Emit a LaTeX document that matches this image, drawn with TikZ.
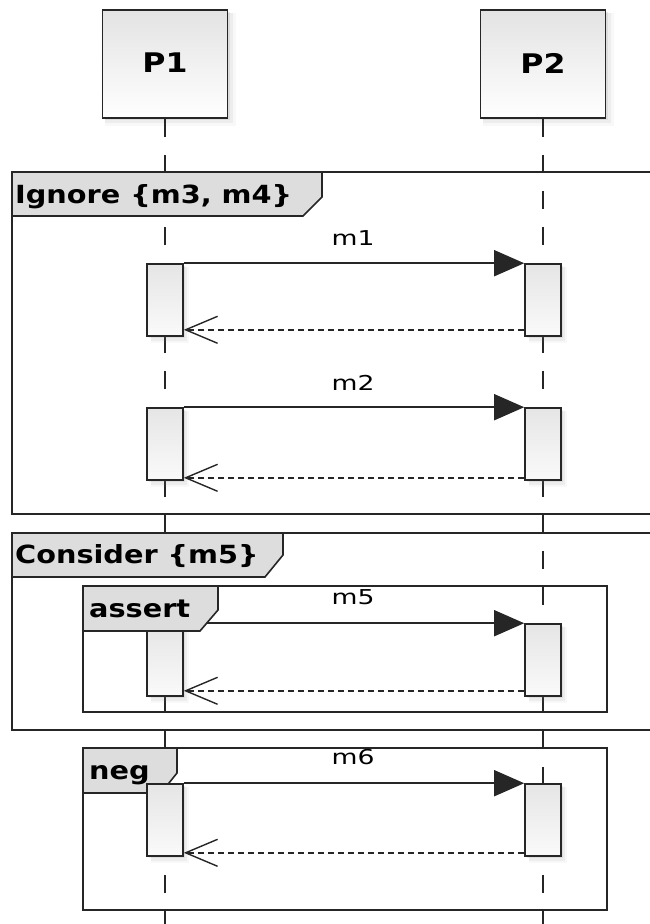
\documentclass[tikz,border=0pt]{standalone}
\usepackage{fontspec}
\usepackage{graphicx}
\setmainfont{DejaVu Sans}
\usetikzlibrary{arrows.meta,shadows}

% horizontally widened text, as the diagram's font runs wide
\newcommand\widetxt[2]{\scalebox{#1}[1]{#2}}

\tikzset{
  ink/.style={draw=black!85, line width=1.6pt},
  softshadow/.style={
    drop shadow={opacity=0.06, shadow xshift=5pt, shadow yshift=-5pt, shadow scale=1.05},
    drop shadow={opacity=0.09, shadow xshift=4pt, shadow yshift=-4pt, shadow scale=1.02},
    drop shadow={opacity=0.14, shadow xshift=2pt, shadow yshift=-2pt}},
  actor/.style={ink, rectangle, inner sep=0pt, minimum width=125pt, minimum height=108pt,
    top color=gray!22, bottom color=white, softshadow},
  actbar/.style={ink, rectangle, inner sep=0pt, minimum width=36pt, minimum height=72pt,
    top color=gray!20, bottom color=gray!4, softshadow},
  lifeline/.style={ink, line width=1.5pt, dash pattern=on 18pt off 18pt},
  frameline/.style={ink},
  tab/.style={ink, fill=gray!27},
  tabtext/.style={anchor=base west, inner sep=0pt, font=\fontsize{25}{25}\selectfont\bfseries},
  actortext/.style={font=\fontsize{27}{27}\selectfont\bfseries},
  msgtext/.style={inner sep=0pt, font=\fontsize{20.5}{20.5}\selectfont},
  call/.style={ink, -{Triangle[length=30pt,width=26pt]}},
  reply/.style={draw=black!85, line width=1.4pt, dash pattern=on 6pt off 4pt,
    -{Straight Barb[length=32pt,width=27pt,line width=1.4pt]}},
}

\begin{document}
\begin{tikzpicture}[x=1pt,y=-1pt]
\useasboundingbox (0,0) rectangle (650,924);

% participants
\node[actor] (p1) at (165,64) {};
\node[actor] (p2) at (543,64) {};
\node[actortext] (p1t) at (165,63) {\widetxt{1.17}{P1}};
\node[actortext] (p2t) at (543,63) {\widetxt{1.17}{P2}};

% lifelines
\coordinate (p1end) at (165,930);
\coordinate (p2end) at (543,930);
\draw[lifeline] (p1.south) -- (p1end);
\draw[lifeline] (p2.south) -- (p2end);

% ---- Ignore {m3, m4}
\draw[frameline] (655,172) -- (12,172) -- (12,514) -- (655,514);
\draw[tab] (12,172) -- (322,172) -- (322,197) -- (303,216) -- (12,216) -- cycle;
\node[tabtext] (ign) at (15,203) {\widetxt{1.15}{Ignore \{m3, m4\}}};

\node[actbar] (a1) at (165,300) {};
\node[actbar] (b1) at (543,300) {};
\draw[call] (a1.north east) -- (b1.north west);
\node[msgtext] (m1) at (353,238.5) {\widetxt{1.3}{m1}};
\draw[reply] ([yshift=7pt]b1.south west) -- ([yshift=7pt]a1.south east);

\node[actbar] (a2) at (165,444) {};
\node[actbar] (b2) at (543,444) {};
\draw[call] (a2.north east) -- (b2.north west);
\node[msgtext] (m2) at (353,382.5) {\widetxt{1.3}{m2}};
\draw[reply] ([yshift=3pt]b2.south west) -- ([yshift=3pt]a2.south east);

% ---- Consider {m5}
\draw[frameline] (655,533) -- (12,533) -- (12,730) -- (655,730);
\draw[tab] (12,533) -- (283,533) -- (283,555) -- (265,577) -- (12,577) -- cycle;
\node[tabtext] (cons) at (15,563) {\widetxt{1.15}{Consider \{m5\}}};

\draw[frameline] (83,586) rectangle (607,712);
\node[actbar] (a3) at (165,660) {};
\node[actbar] (b3) at (543,660) {};
\draw[call] (a3.north east) -- (b3.north west);
\node[msgtext] (m5) at (353,597.5) {\widetxt{1.3}{m5}};
\draw[reply] ([yshift=6pt]b3.south west) -- ([yshift=6pt]a3.south east);
\draw[tab] (83,586) -- (218,586) -- (218,610) -- (200,631) -- (83,631) -- cycle;
\node[tabtext] (asrt) at (89,617) {\widetxt{1.15}{assert}};

% ---- neg
\draw[frameline] (83,748) rectangle (607,910);
\draw[tab] (83,748) -- (177,748) -- (177,773) -- (161,793) -- (83,793) -- cycle;
\node[tabtext] (ng) at (89,779) {\widetxt{1.15}{neg}};
\node[actbar] (a4) at (165,820) {};
\node[actbar] (b4) at (543,820) {};
\draw[call] (a4.north east) -- (b4.north west);
\node[msgtext] (m6) at (353,757.5) {\widetxt{1.3}{m6}};
\draw[reply] ([yshift=4pt]b4.south west) -- ([yshift=4pt]a4.south east);
\end{tikzpicture}
\end{document}
